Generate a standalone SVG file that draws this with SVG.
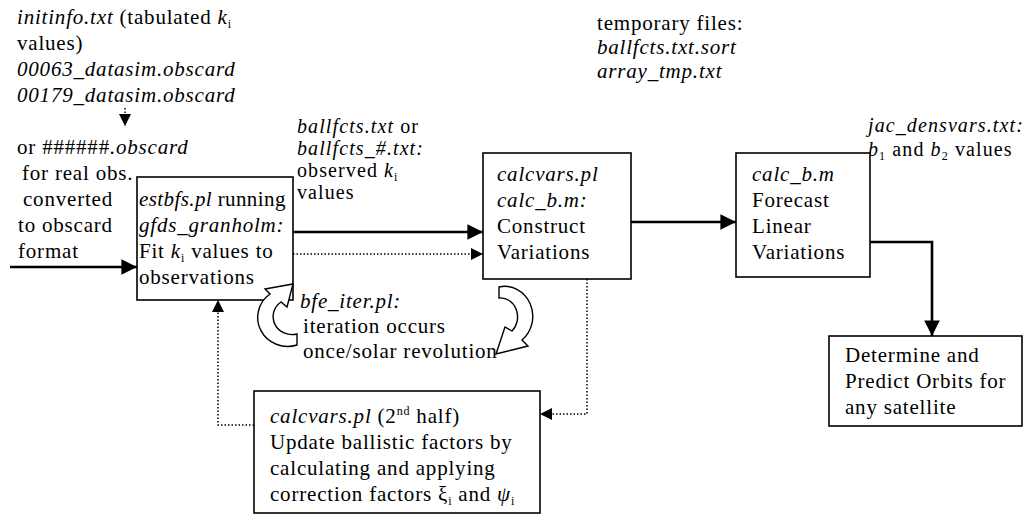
<svg xmlns="http://www.w3.org/2000/svg" width="1029" height="514" viewBox="0 0 1029 514" font-family="'Liberation Serif', 'Times New Roman', 'DejaVu Serif', serif">
<defs>
<style>
text{font-family:'Liberation Serif','Times New Roman','DejaVu Serif',serif;font-size:21px;fill:#000;letter-spacing:0.8px}
.i{font-style:italic}
.lbl{font-size:20px;letter-spacing:1.1px}
.box{fill:#fff;stroke:#000;stroke-width:1.6}
.solid{fill:none;stroke:#000;stroke-width:2.6}
.dot{fill:none;stroke:#000;stroke-width:1.5;stroke-dasharray:1.5 2}
.curl{fill:#fff;stroke:#000;stroke-width:1.4}
</style>
<marker id="ah" viewBox="0 0 10 10" refX="10" refY="5" markerWidth="8" markerHeight="6" markerUnits="strokeWidth" orient="auto"><path d="M0,0 L10,5 L0,10 z" fill="#000"/></marker>
<marker id="ahd" viewBox="0 0 10 10" refX="10" refY="5" markerWidth="10" markerHeight="8" markerUnits="strokeWidth" orient="auto"><path d="M0,0 L10,5 L0,10 z" fill="#000"/></marker>
</defs>
<rect width="1029" height="514" fill="#fff"/>

<g id="input-text">
<text x="17" y="24"><tspan class="i">initinfo.txt</tspan> (tabulated <tspan class="i">k</tspan><tspan font-size="12" dy="4">i</tspan></text>
<text x="17" y="50">values)</text>
<text x="17" y="76" class="i">00063_datasim.obscard</text>
<text x="17" y="102" class="i">00179_datasim.obscard</text>
<text x="17" y="154">or ######<tspan class="i">.obscard</tspan></text>
<text x="22" y="180">for real obs.</text>
<text x="23" y="206">converted</text>
<text x="18" y="232">to obscard</text>
<text x="18" y="258">format</text>
</g>

<g id="node-estbfs">
<rect class="box" x="137" y="177" width="156" height="123"/>
<text x="139" y="206" style="letter-spacing:0.4px"><tspan class="i">estbfs.pl</tspan> running</text>
<text x="139" y="232" class="i">gfds_granholm:</text>
<text x="139" y="258">Fit <tspan class="i">k</tspan><tspan font-size="12" dy="4">i</tspan><tspan dy="-4"> values to</tspan></text>
<text x="139" y="284">observations</text>
</g>

<g id="label-ballfcts">
<text class="lbl" x="297" y="133"><tspan class="i">ballfcts.txt</tspan> or</text>
<text class="lbl i" x="297" y="155">ballfcts_#.txt:</text>
<text class="lbl" x="297" y="177">observed <tspan class="i">k</tspan><tspan font-size="12" dy="4">i</tspan></text>
<text class="lbl" x="297" y="199">values</text>
</g>

<g id="label-temp">
<text x="597" y="30">temporary files:</text>
<text x="597" y="54" class="i">ballfcts.txt.sort</text>
<text x="597" y="78" class="i">array_tmp.txt</text>
</g>

<g id="node-calcvars">
<rect class="box" x="483" y="153" width="148" height="126"/>
<text x="497" y="181" class="i">calcvars.pl</text>
<text x="497" y="207" class="i">calc_b.m:</text>
<text x="497" y="233">Construct</text>
<text x="497" y="259">Variations</text>
</g>

<g id="label-jac">
<text class="lbl i" x="868" y="132">jac_densvars.txt:</text>
<text class="lbl" x="868" y="156"><tspan class="i">b</tspan><tspan font-size="12" dy="4">1</tspan><tspan dy="-4"> and </tspan><tspan class="i">b</tspan><tspan font-size="12" dy="4">2</tspan><tspan dy="-4"> values</tspan></text>
</g>

<g id="node-calcbm">
<rect class="box" x="736" y="153" width="134" height="124"/>
<text x="752" y="181" class="i">calc_b.m</text>
<text x="752" y="207">Forecast</text>
<text x="752" y="233">Linear</text>
<text x="752" y="259">Variations</text>
</g>

<g id="node-determine">
<rect class="box" x="829" y="336" width="193" height="90"/>
<text x="845" y="362">Determine and</text>
<text x="845" y="388">Predict Orbits for</text>
<text x="845" y="414">any satellite</text>
</g>

<g id="label-iter">
<text x="300" y="308" class="i">bfe_iter.pl:</text>
<text x="303" y="333">iteration occurs</text>
<text x="303" y="358">once/solar revolution</text>
</g>

<g id="node-calcvars2">
<rect class="box" x="254" y="391" width="286" height="122"/>
<text x="270" y="423"><tspan class="i">calcvars.pl</tspan> (2<tspan font-size="12" dy="-8">nd</tspan><tspan dy="8"> half)</tspan></text>
<text x="270" y="449">Update ballistic factors by</text>
<text x="270" y="475">calculating and applying</text>
<text x="270" y="501">correction factors ξ<tspan font-size="12" dy="4">i</tspan><tspan dy="-4"> and </tspan><tspan class="i">ψ</tspan><tspan font-size="12" dy="4">i</tspan></text>
</g>

<g id="connectors">
<line class="dot" x1="125" y1="108" x2="125" y2="126" marker-end="url(#ahd)"/>
<line class="solid" x1="10" y1="267" x2="137" y2="267" marker-end="url(#ah)"/>
<line class="solid" x1="293" y1="232" x2="483" y2="232" marker-end="url(#ah)"/>
<line class="dot" x1="293" y1="254" x2="483" y2="254" marker-end="url(#ahd)"/>
<line class="solid" x1="631" y1="222" x2="736" y2="222" marker-end="url(#ah)"/>
<polyline class="solid" points="870,242 932,242 932,336" marker-end="url(#ah)"/>
<polyline class="dot" points="587,279 587,414 540,414" marker-end="url(#ahd)"/>
<polyline class="dot" points="254,425 218,425 218,300" marker-end="url(#ahd)"/>
<path class="curl" d="M297,345 A30,29 0 0 1 270,294 L265,289 L293,284 L287,307 L281,302 A19,18 0 0 0 297,334 Z"/>
<path class="curl" d="M499,287 A28,30 0 0 1 522,340 L528,346 L496,354 L505,327 L512,331 A17,19 0 0 0 499,298 Z"/>
</g>
</svg>
